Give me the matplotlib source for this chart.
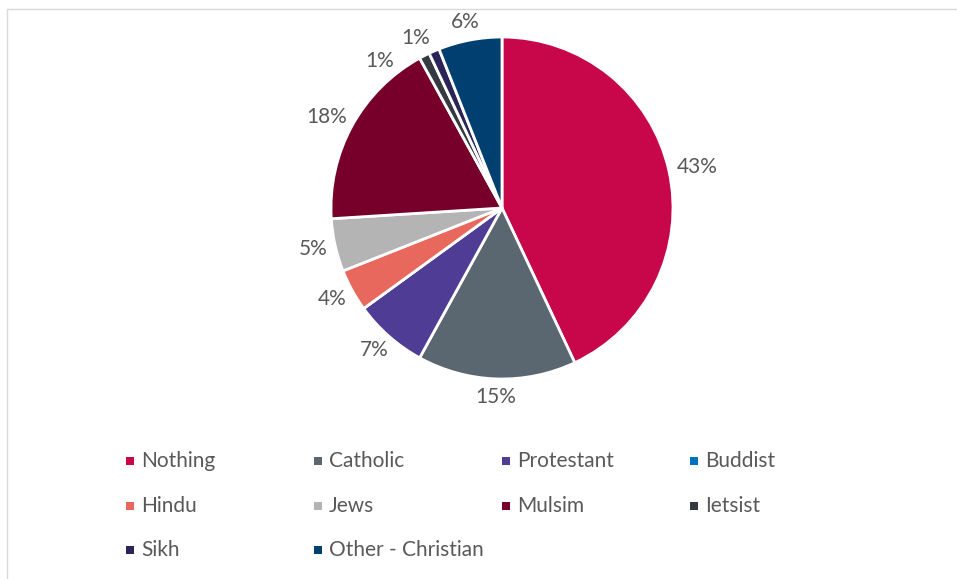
import numpy as np
import matplotlib.pyplot as plt
from matplotlib.patches import Rectangle
from matplotlib.transforms import ScaledTranslation

# religion shares (%)
religions = ["Nothing", "Catholic", "Protestant", "Buddist", "Hindu",
             "Jews", "Mulsim", "Ietsist", "Sikh", "Other - Christian"]
shares = [43, 15, 7, 0, 4, 5, 18, 1, 1, 6]
colors = ["#C8074B", "#5A6670", "#4F3D95", "#0070C0", "#E8685E",
          "#B4B4B4", "#77002B", "#343A40", "#2B2459", "#003F6F"]

plt.rcParams['font.family'] = ['Lato', 'DejaVu Sans']
txt = "#595959"
fs = 15

W, H = 957, 579
fig = plt.figure(figsize=(W / 100, H / 100), dpi=100)

# thin grey frame around the chart area
fig.patches.append(Rectangle((7 / W, -0.1), 1.1, 1 - 9 / H + 0.1, transform=fig.transFigure,
                             fill=False, edgecolor="#D9D9D9", linewidth=1))

cx, cy, r = 502, H - 208, 171
ax = fig.add_axes([(cx - r) / W, (cy - r) / H, 2 * r / W, 2 * r / H])

total = sum(shares)
wedges, _ = ax.pie(shares, colors=colors, startangle=90, counterclock=False,
                   wedgeprops=dict(edgecolor="white", linewidth=2))
ax.set_xlim(-1, 1)
ax.set_ylim(-1, 1)
ax.set_aspect("equal")
ax.axis("off")

# labels at the outside end of each slice; the two thin slices get spread apart
nudge = {7: 12, 8: 3}
renderer = fig.canvas.get_renderer()
for i, (w, v) in enumerate(zip(wedges, shares)):
    if v == 0:
        continue
    ang = np.deg2rad((w.theta1 + w.theta2) / 2 + nudge.get(i, 0))
    c, s = np.cos(ang), np.sin(ang)
    t = ax.text(1.05 * c, 1.05 * s, f"{v / total * 100:.0f}%", fontsize=fs,
                color=txt, ha="center", va="center")
    bb = t.get_window_extent(renderer)
    t.set_transform(ax.transData + ScaledTranslation(
        c * bb.width / 2 / 100, s * bb.height / 2 / 100, fig.dpi_scale_trans))

# legend, four columns
for i, (name, c) in enumerate(zip(religions, colors)):
    row, col = divmod(i, 4)
    x = 126 + col * 188
    y = H - (461 + row * 44.5)
    fig.patches.append(Rectangle((x / W, (y - 4) / H), 8 / W, 8 / H,
                                 transform=fig.transFigure, facecolor=c, edgecolor="none"))
    fig.text((x + 15) / W, y / H, name, fontsize=fs, color=txt, va="center", ha="left")

fig.savefig("out.png", dpi=100)
